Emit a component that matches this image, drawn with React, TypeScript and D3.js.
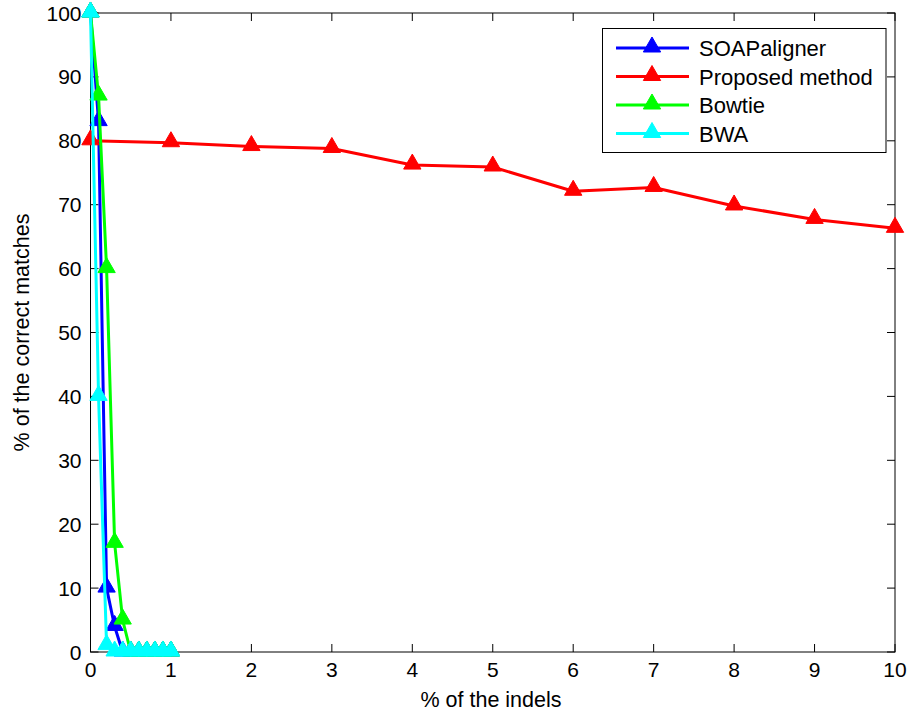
import React from "react";
import * as d3 from "d3";

const xSmall = [0, 0.1, 0.2, 0.3, 0.4, 0.5, 0.6, 0.7, 0.8, 0.9, 1.0];
const soapValues = [100, 83, 10, 4, 0, 0, 0, 0, 0, 0, 0];
const bowtieValues = [100, 87, 60, 17, 5, 0, 0, 0, 0, 0, 0];
const bwaValues = [100, 40, 1, 0, 0, 0, 0, 0, 0, 0, 0];
const xProposed = [0, 1, 2, 3, 4, 5, 6, 7, 8, 9, 10];
const proposedValues = [80, 79.7, 79.1, 78.8, 76.2, 75.9, 72.1, 72.7, 69.8, 67.7, 66.3];
const xTicks = [0, 1, 2, 3, 4, 5, 6, 7, 8, 9, 10];
const yTicks = [0, 10, 20, 30, 40, 50, 60, 70, 80, 90, 100];

const seriesNames = ["SOAPaligner", "Proposed method", "Bowtie", "BWA"];
const seriesColors = ["#0000ff", "#ff0000", "#00ff00", "#00ffff"];

export default function App() {
  const W = 914, H = 715;
  const left = 90.5, right = 895, top = 13, bottom = 652;
  const x = d3.scaleLinear().domain([0, 10]).range([left, right]);
  const y = d3.scaleLinear().domain([0, 100]).range([bottom, top]);
  const font = "'Liberation Sans', Arial, sans-serif";

  const series = [
    { xs: xSmall, ys: soapValues },
    { xs: xProposed, ys: proposedValues },
    { xs: xSmall, ys: bowtieValues },
    { xs: xSmall, ys: bwaValues },
  ];

  const line = d3.line<[number, number]>().x(d => x(d[0])).y(d => y(d[1]));
  const tri = d3.symbol().type(d3.symbolTriangle).size(130)() as string;
  const tick = 8;

  const legX = 602.5, legY = 28.5, legW = 283.5, legH = 124;
  const rowY = [48, 76.5, 105, 133.5];

  return (
    <svg width={W} height={H} style={{ position: "absolute", left: 0, top: 0, background: "#fff" }}>
      <rect x={0} y={0} width={W} height={H} fill="#fff" />
      {/* ticks */}
      {xTicks.map(t => (
        <g key={"xt" + t}>
          <line x1={x(t)} x2={x(t)} y1={bottom} y2={bottom - tick} stroke="#000" strokeWidth={1} />
          <line x1={x(t)} x2={x(t)} y1={top} y2={top + tick} stroke="#000" strokeWidth={1} />
          <text x={x(t)} y={bottom + 25} textAnchor="middle" fontFamily={font} fontSize={21} fill="#000">{t}</text>
        </g>
      ))}
      {yTicks.map(t => (
        <g key={"yt" + t}>
          <line x1={left} x2={left + tick} y1={y(t)} y2={y(t)} stroke="#000" strokeWidth={1} />
          <line x1={right} x2={right - tick} y1={y(t)} y2={y(t)} stroke="#000" strokeWidth={1} />
          <text x={left - 9} y={y(t) + 7.5} textAnchor="end" fontFamily={font} fontSize={21} fill="#000">{t}</text>
        </g>
      ))}
      <rect x={left} y={top} width={right - left} height={bottom - top} fill="none" stroke="#000" strokeWidth={1} />
      {/* series */}
      {series.map((s, i) => {
        const pts = s.xs.map((v, j) => [v, s.ys[j]] as [number, number]);
        return (
          <g key={"s" + i}>
            <path d={line(pts) as string} fill="none" stroke={seriesColors[i]} strokeWidth={3} strokeLinejoin="round" />
            {pts.map((p, j) => (
              <path key={j} d={tri} transform={`translate(${x(p[0])},${y(p[1]) - 1})`} fill={seriesColors[i]} stroke={seriesColors[i]} strokeWidth={1} />
            ))}
          </g>
        );
      })}
      {/* legend */}
      <rect x={legX} y={legY} width={legW} height={legH} fill="#fff" stroke="#000" strokeWidth={1} />
      {seriesNames.map((n, i) => (
        <g key={"l" + i}>
          <line x1={616} x2={689} y1={rowY[i]} y2={rowY[i]} stroke={seriesColors[i]} strokeWidth={3} />
          <path d={tri} transform={`translate(652,${rowY[i] - 1})`} fill={seriesColors[i]} stroke={seriesColors[i]} />
          <text x={699} y={rowY[i] + 8} fontFamily={font} fontSize={22} fill="#000">{n}</text>
        </g>
      ))}
      {/* axis labels */}
      <text x={491} y={707} textAnchor="middle" fontFamily={font} fontSize={21.5} fill="#000">% of the indels</text>
      <text transform={`translate(29,${(top + bottom) / 2}) rotate(-90)`} textAnchor="middle" fontFamily={font} fontSize={21.5} fill="#000">% of the correct matches</text>
    </svg>
  );
}
